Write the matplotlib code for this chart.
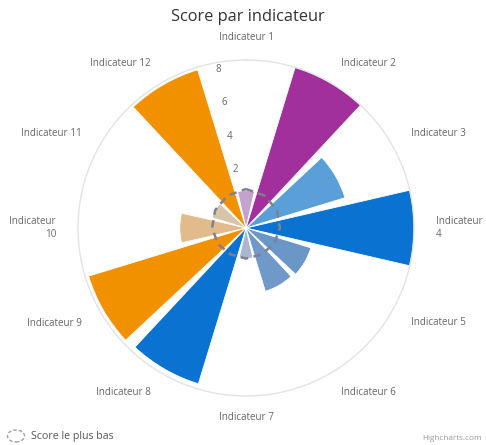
import numpy as np
from matplotlib import pyplot as plt
from matplotlib.patches import Ellipse

# data
categories = ['Indicateur 1', 'Indicateur 2', 'Indicateur 3', 'Indicateur\n4',
              'Indicateur 5', 'Indicateur 6', 'Indicateur 7', 'Indicateur 8',
              'Indicateur 9', 'Indicateur\n10', 'Indicateur 11', 'Indicateur 12']
scores = [0.7, 8.4, 4.6, 8.4, 2.5, 2.4, 0.3, 8.1, 8.2, 2.4, 0.6, 8.25]
lowest = [0.8, 0.7, 0.6, 0.5, 0.4, 0.3, 0.3, 0.3, 0.4, 0.5, 0.6, 0.7]
bar_colors = ['#c3a2cc', '#a1309c', '#5a9fd8', '#0a73d1', '#6b96c8', '#7098c8',
              '#a9b8cf', '#0a73d1', '#f29100', '#e2bb8c', '#d8c4a8', '#f29100']
ytick_values = [2, 4, 6, 8]
ymin, ymax = -1.5, 8.4

plt.rcParams['font.family'] = ['Open Sans', 'DejaVu Sans']

fig = plt.figure(figsize=(4.86, 4.45), dpi=100)
ax = fig.add_axes([78 / 486, 49 / 445, 336 / 486, 336 / 445], projection='polar')
ax.set_theta_zero_location('N')
ax.set_theta_direction(-1)

n = len(categories)
theta = np.arange(n) * 2 * np.pi / n
width = np.deg2rad(26)

ax.bar(theta, np.array(scores) - ymin, width=width, bottom=ymin,
       color=bar_colors, edgecolor='white', linewidth=0.6, zorder=2)

# lowest score line (closed)
th_line = np.append(theta, theta[0] + 2 * np.pi)
low_line = np.append(lowest, lowest[0])
ax.plot(th_line, low_line, color='#808090', lw=1.8, ls=(0, (3, 2.2)), zorder=3)

ax.set_ylim(ymin, ymax)
ax.grid(False)
ax.set_xticks([])
ax.set_yticks([])
ax.spines['polar'].set_color('#e3e3e3')
ax.spines['polar'].set_linewidth(1)

# radial labels
for v in ytick_values:
    ax.text(np.deg2rad(-10), v, str(v), color='#666666', fontsize=7,
            ha='center', va='center', zorder=4)

# category labels
px_per_unit = 168 / (ymax - ymin)
r_lab = 190 / px_per_unit + ymin
for t, lab in zip(theta, categories):
    deg = np.rad2deg(t)
    if deg < 1 or abs(deg - 180) < 1:
        ha = 'center'
    elif deg < 180:
        ha = 'left'
    else:
        ha = 'right'
    ax.text(t, r_lab, lab, color='#666666', fontsize=7.1, ha=ha, va='center',
            multialignment=ha if ha != 'center' else 'center', clip_on=False)

fig.text(248 / 486, 1 - 17 / 445, 'Score par indicateur', ha='center', va='center',
         fontsize=11.8, color='#333333')

# legend
fig.add_artist(Ellipse((16 / 486, 1 - 436 / 445), 17 / 486, 12 / 445,
                       fill=False, edgecolor='#a0a0a0', lw=1, ls=(0, (2.5, 1.5)),
                       transform=fig.transFigure))
fig.text(31 / 486, 1 - 437 / 445, 'Score le plus bas', ha='left', va='center',
         fontsize=7.7, color='#555555')
fig.text(482 / 486, 1 - 438 / 445, 'Highcharts.com', ha='right', va='center',
         fontsize=5.9, color='#999999')

fig.savefig('out.png', dpi=100, facecolor='white')
